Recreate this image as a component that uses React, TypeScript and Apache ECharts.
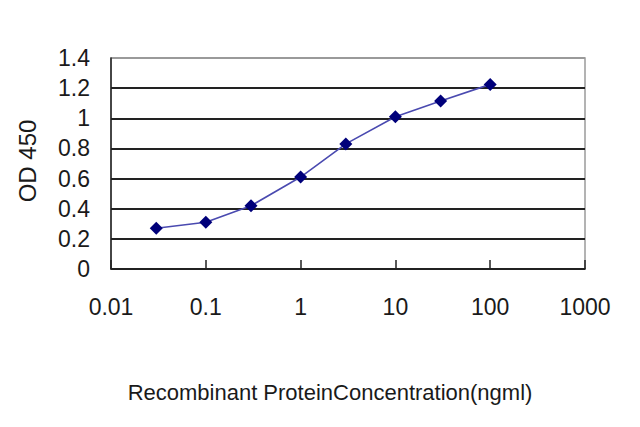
import React, { useEffect, useRef } from "react";
import * as echarts from "echarts";

const concentrations = [0.03, 0.1, 0.3, 1, 3, 10, 30, 100];
const odValues = [0.27, 0.31, 0.42, 0.61, 0.83, 1.01, 1.115, 1.225];
const xTickValues = [0.01, 0.1, 1, 10, 100, 1000];
const xTickLabels = ["0.01", "0.1", "1", "10", "100", "1000"];
const yTickLabels = ["0", "0.2", "0.4", "0.6", "0.8", "1", "1.2", "1.4"];
const xTitle = "Recombinant ProteinConcentration(ngml)";
const yTitle = "OD 450";

const FONT = "'Liberation Sans', Arial, sans-serif";

export default function App() {
  const ref = useRef<HTMLDivElement>(null);
  useEffect(() => {
    if (!ref.current) return;
    const chart = echarts.init(ref.current, null, { renderer: "svg" });
    const gridColors = yTickLabels.map((_, i) =>
      i === yTickLabels.length - 1 ? "#9a9a9a" : "#222222"
    );
    chart.setOption({
      animation: false,
      backgroundColor: "#ffffff",
      grid: {
        left: 111,
        top: 58,
        right: 55,
        bottom: 158,
        show: true,
        borderColor: "#9a9a9a",
        borderWidth: 1.5,
        backgroundColor: "transparent",
      },
      xAxis: {
        type: "log",
        logBase: 10,
        min: 0.01,
        max: 1000,
        axisLine: { show: true, lineStyle: { color: "#222", width: 1.5 } },
        axisTick: { show: true, inside: true, length: 9, lineStyle: { color: "#222", width: 1.5 } },
        splitLine: { show: false },
        axisLabel: {
          margin: 26,
          fontSize: 23,
          fontFamily: FONT,
          color: "#1a1a1a",
          formatter: (v: number) => {
            const idx = xTickValues.findIndex((t) => Math.abs(Math.log10(t) - Math.log10(v)) < 1e-6);
            return idx >= 0 ? xTickLabels[idx] : "";
          },
        },
      },
      yAxis: {
        type: "value",
        min: 0,
        max: 1.4,
        interval: 0.2,
        axisLine: { show: true, lineStyle: { color: "#222", width: 1.5 } },
        axisTick: { show: false },
        splitLine: { show: true, lineStyle: { color: gridColors, width: 1.8 } },
        axisLabel: {
          margin: 21,
          fontSize: 23,
          fontFamily: FONT,
          color: "#1a1a1a",
          formatter: (v: number) => {
            const idx = Math.round(v / 0.2);
            return yTickLabels[idx] ?? "";
          },
        },
      },
      graphic: [
        {
          type: "text",
          x: 330,
          y: 392,
          style: {
            text: xTitle,
            fontSize: 22,
            fontFamily: FONT,
            fill: "#1a1a1a",
            align: "center",
            verticalAlign: "middle",
          },
        },
        {
          type: "text",
          x: 27,
          y: 161,
          rotation: Math.PI / 2,
          style: {
            text: yTitle,
            fontSize: 24,
            fontFamily: FONT,
            fill: "#1a1a1a",
            align: "center",
            verticalAlign: "middle",
          },
        },
      ],
      series: [
        {
          type: "line",
          data: concentrations.map((c, i) => [c, odValues[i]]),
          symbol: "diamond",
          symbolSize: 13,
          lineStyle: { color: "#4a4ab0", width: 1.6 },
          itemStyle: { color: "#00007a" },
          z: 5,
        },
      ],
    });
    return () => chart.dispose();
  }, []);
  return (
    <div
      ref={ref}
      style={{ position: "fixed", left: 0, top: 0, width: 640, height: 427 }}
    />
  );
}
